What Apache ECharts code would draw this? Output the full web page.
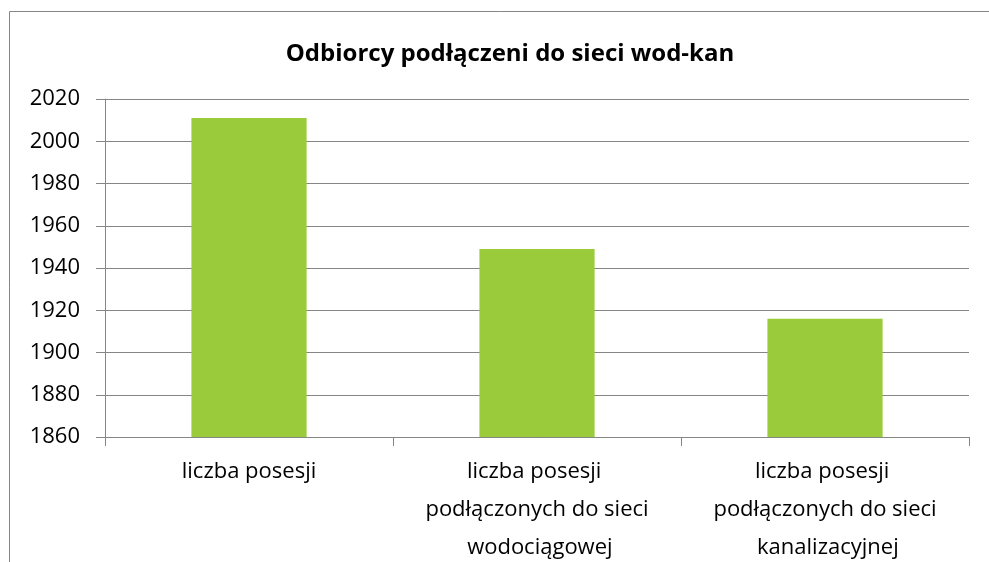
<!DOCTYPE html>
<html>
<head>
<meta charset="utf-8">
<script src="https://cdn.jsdelivr.net/npm/echarts@6/dist/echarts.min.js"></script>
<style>html,body{margin:0;padding:0;background:#fff}#c{width:989px;height:562px}</style>
</head>
<body>
<div id="c"></div>
<script>
const titleText = 'Odbiorcy podłączeni do sieci wod-kan';
const categories = ['liczba posesji', 'liczba posesji podłączonych do sieci wodociągowej', 'liczba posesji podłączonych do sieci kanalizacyjnej'];
const values = [2011, 1949, 1916];
const yMin = 1860, yMax = 2020, yStep = 20;

const chart = echarts.init(document.getElementById('c'));
const font = '"Open Sans", "Liberation Sans", Arial, sans-serif';
const gray = '#868686';
chart.setOption({
  animation: false,
  backgroundColor: '#fff',
  graphic: [{
    type: 'rect', left: 7, top: 9, shape: { width: 1100, height: 700 },
    style: { fill: 'none', stroke: gray, lineWidth: 1 }, silent: true
  }],
  title: {
    text: titleText, left: 505, top: 37, textAlign: 'center',
    textStyle: { fontFamily: font, fontWeight: 'bold', fontSize: 24, color: '#000' }
  },
  grid: { left: 105, right: 20, top: 99, bottom: 125, containLabel: false, outerBoundsMode: 'none' },
  xAxis: {
    type: 'category', data: categories,
    axisLine: { lineStyle: { color: gray, width: 1 } },
    axisTick: { show: true, length: 9, alignWithLabel: false, lineStyle: { color: gray } },
    axisLabel: {
      color: '#000', fontFamily: font, fontSize: 22, margin: 16, lineHeight: 38,
      width: 255, overflow: 'break', interval: 0
    }
  },
  yAxis: {
    type: 'value', min: yMin, max: yMax, interval: yStep,
    axisLine: { show: true, lineStyle: { color: gray, width: 1 } },
    axisTick: { show: true, length: 9, lineStyle: { color: gray } },
    splitLine: { show: true, lineStyle: { color: gray, width: 1 } },
    axisLabel: { color: '#000', fontFamily: font, fontSize: 22, margin: 25, formatter: v => String(v) }
  },
  series: [{
    type: 'bar', data: values, barWidth: '40%',
    itemStyle: { color: '#9ACB3A' }
  }]
});
</script>
</body>
</html>
